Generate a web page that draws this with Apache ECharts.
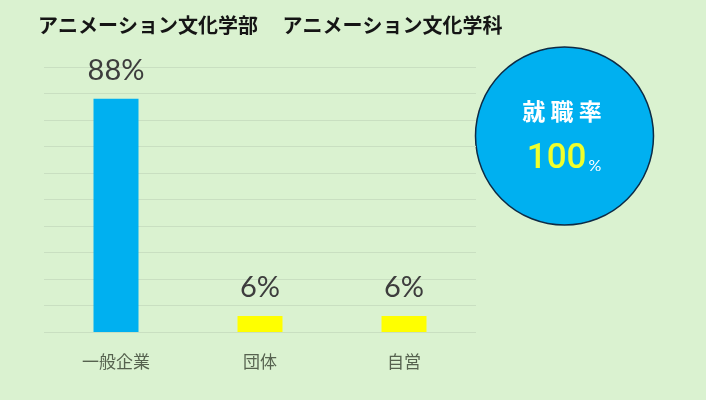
<!DOCTYPE html>
<html>
<head>
<meta charset="utf-8">
<script src="https://cdn.jsdelivr.net/npm/echarts@6/dist/echarts.min.js"></script>
<style>
  html, body { margin: 0; padding: 0; background: #daf2d0; }
  #chart { width: 706px; height: 400px; }
</style>
</head>
<body>
<div id="chart"></div>
<script>
const titleText = "アニメーション文化学部　 アニメーション文化学科";
const categories = ["一般企業", "団体", "自営"];
const values = [88, 6, 6];
const barColors = ["#00b0f0", "#ffff00", "#ffff00"];
const rateLabel = "就職率";
const rateValue = 100;

const chart = echarts.init(document.getElementById("chart"));

const option = {
  backgroundColor: "#daf2d0",
  animation: false,
  title: {
    text: titleText,
    left: 33,
    top: 10,
    textStyle: {
      fontFamily: "Noto Sans CJK JP",
      fontSize: 20,
      fontWeight: "bold",
      color: "#151515",
    },
  },
  grid: {
    left: 44,
    right: 230,
    top: 67,
    bottom: 68,
  },
  xAxis: {
    type: "category",
    data: categories,
    axisLine: { show: false },
    axisTick: { show: false },
    axisLabel: {
      margin: 21,
      fontFamily: "Noto Sans CJK JP",
      fontSize: 17,
      color: "#56624f",
    },
  },
  yAxis: {
    type: "value",
    min: 0,
    max: 100,
    interval: 10,
    axisLabel: { show: false },
    axisLine: { show: false },
    axisTick: { show: false },
    splitLine: { lineStyle: { color: "#c9dfc1", width: 1 } },
  },
  series: [
    {
      type: "bar",
      barWidth: 45,
      data: values.map((v, i) => ({ value: v, itemStyle: { color: barColors[i] } })),
      label: {
        show: true,
        position: "top",
        distance: 14,
        formatter: "{c}%",
        fontFamily: "Lato",
        fontSize: 29,
        color: "#3d3d3d",
      },
    },
  ],
  graphic: [
    {
      type: "circle",
      shape: { cx: 564.5, cy: 136, r: 89 },
      style: { fill: "#00b0f0", stroke: "#0d2b45", lineWidth: 1.5 },
    },
    {
      type: "text",
      x: 562,
      y: 111,
      style: {
        text: rateLabel.split("").join(" "),
        fontFamily: "Noto Sans CJK JP",
        fontSize: 23,
        fontWeight: "bold",
        fill: "#ffffff",
        align: "center",
        verticalAlign: "middle",
      },
    },
    {
      type: "text",
      x: 564,
      y: 159,
      style: {
        text: "{num|" + rateValue + "}{pct|%}",
        align: "center",
        verticalAlign: "middle",
        rich: {
          num: {
            fontFamily: "Roboto",
            fontSize: 35,
            fontWeight: 500,
            fill: "#f0ff2c",
            color: "#f0ff2c",
            verticalAlign: "bottom",
          },
          pct: {
            fontFamily: "Lato",
            fontSize: 16,
            fill: "#ffffff",
            color: "#ffffff",
            verticalAlign: "bottom",
            padding: [0, 0, 3, 2],
          },
        },
      },
    },
  ],
};

chart.setOption(option);
</script>
</body>
</html>
